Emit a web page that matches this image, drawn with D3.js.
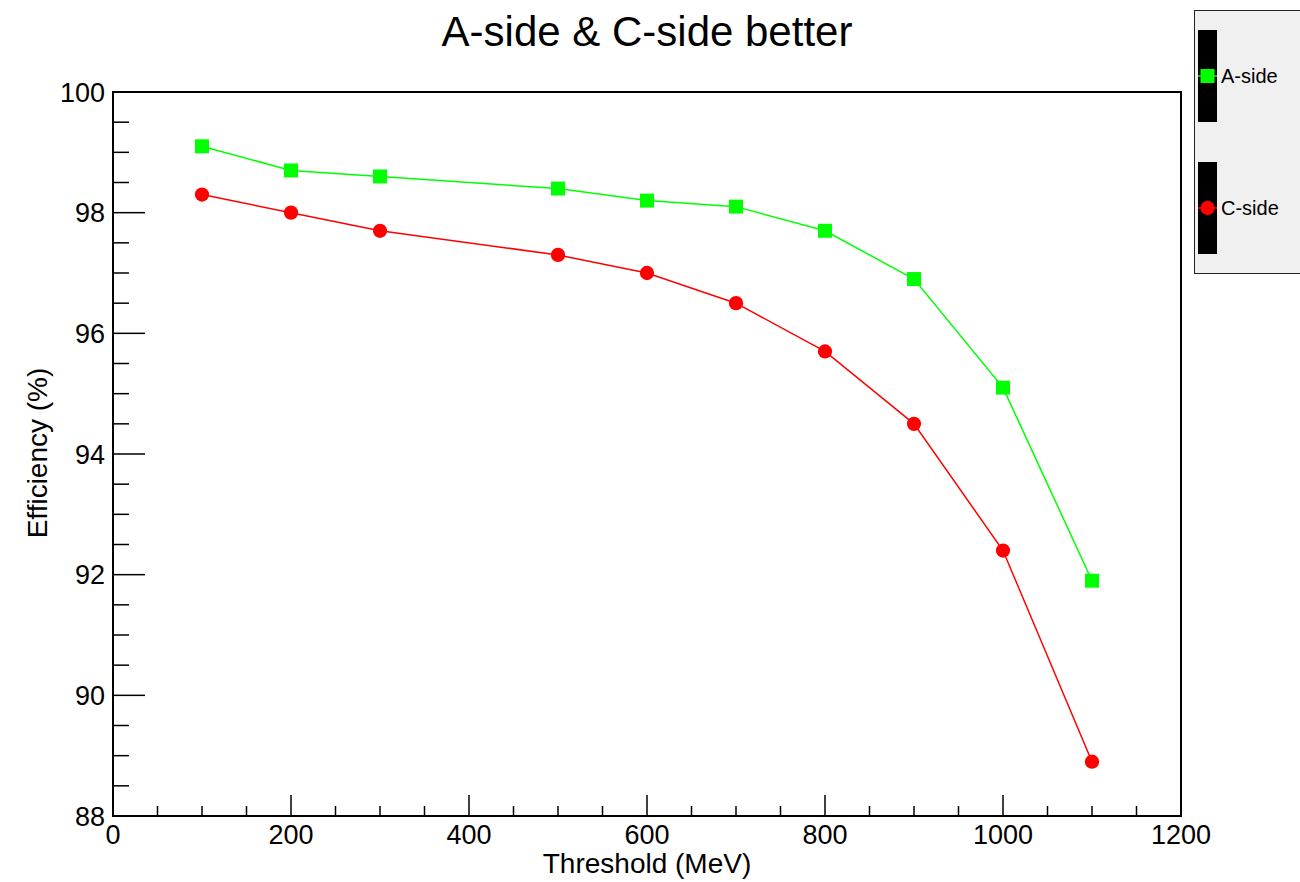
<!DOCTYPE html>
<meta charset="utf-8">
<style>
	body { margin: 0; background: #fff; }
	text { font-family: "Liberation Sans", Arial, sans-serif; fill: #000; }
	.line { fill: none; stroke-width: 1.5px; }
</style>
<svg id="chart" width="1300" height="882"></svg>
<script src="https://d3js.org/d3.v7.min.js"></script>
<script>
	// data
	var thresholds = [100, 200, 300, 500, 600, 700, 800, 900, 1000, 1100];
	var aSide = [99.1, 98.7, 98.6, 98.4, 98.2, 98.1, 97.7, 96.9, 95.1, 91.9];
	var cSide = [98.3, 98.0, 97.7, 97.3, 97.0, 96.5, 95.7, 94.5, 92.4, 88.9];
	var seriesNames = ["A-side", "C-side"];
	var seriesColors = ["#00ff00", "#ff0000"];
	var seriesMarkers = ["square", "circle"];
	var xTicks = [0, 200, 400, 600, 800, 1000, 1200];
	var yTicks = [88, 90, 92, 94, 96, 98, 100];

	var svg = d3.select("#chart"),
		margin = {top: 92, right: 119, bottom: 66, left: 113},
		width = 1300 - margin.left - margin.right,
		height = 882 - margin.top - margin.bottom,
		g = svg.append("g").attr("transform", "translate(" + margin.left + "," + margin.top + ")");

	var x = d3.scaleLinear().domain([0, 1200]).range([0, width]),
		y = d3.scaleLinear().domain([88, 100]).range([height, 0]);

	var series = [
		{id: seriesNames[0], color: seriesColors[0], marker: seriesMarkers[0], values: thresholds.map(function(t, i) { return {t: t, v: aSide[i]}; })},
		{id: seriesNames[1], color: seriesColors[1], marker: seriesMarkers[1], values: thresholds.map(function(t, i) { return {t: t, v: cSide[i]}; })}
	];

	// frame
	g.append("rect")
		.attr("width", width).attr("height", height)
		.attr("fill", "none").attr("stroke", "#000").attr("stroke-width", 2);

	// x ticks (ROOT style, pointing inward)
	var xMinor = d3.range(0, 1201, 50);
	g.selectAll(".xt").data(xMinor).enter().append("line")
		.attr("x1", function(d) { return x(d); }).attr("x2", function(d) { return x(d); })
		.attr("y1", height).attr("y2", function(d) { return d % 200 === 0 ? height - 21 : height - 10; })
		.attr("stroke", "#000").attr("stroke-width", 1.5);
	g.selectAll(".xl").data(xTicks).enter().append("text")
		.attr("x", function(d) { return x(d); }).attr("y", height + 28)
		.attr("text-anchor", "middle").style("font-size", "27px")
		.text(function(d) { return d; });

	// y ticks
	var yMinor = d3.range(88, 100.01, 0.5);
	g.selectAll(".yt").data(yMinor).enter().append("line")
		.attr("y1", function(d) { return y(d); }).attr("y2", function(d) { return y(d); })
		.attr("x1", 0).attr("x2", function(d) { return Math.abs(d % 2) < 1e-6 ? 32 : 16; })
		.attr("stroke", "#000").attr("stroke-width", 1.5);
	g.selectAll(".yl").data(yTicks).enter().append("text")
		.attr("x", -8).attr("y", function(d) { return y(d); })
		.attr("dy", "0.36em").attr("text-anchor", "end").style("font-size", "27px")
		.text(function(d) { return d; });

	// axis titles
	svg.append("text")
		.attr("x", 647).attr("y", 873)
		.attr("text-anchor", "middle").style("font-size", "28px")
		.text("Threshold (MeV)");
	svg.append("text")
		.attr("transform", "translate(47,453) rotate(-90)")
		.attr("text-anchor", "middle").style("font-size", "28px")
		.text("Efficiency (%)");

	// title
	svg.append("text")
		.attr("x", 647).attr("y", 46)
		.attr("text-anchor", "middle").style("font-size", "42px")
		.text("A-side & C-side better");

	var line = d3.line()
		.x(function(d) { return x(d.t); })
		.y(function(d) { return y(d.v); });

	var s = g.selectAll(".series").data(series).enter().append("g").attr("class", "series");
	s.append("path")
		.attr("class", "line")
		.attr("d", function(d) { return line(d.values); })
		.style("stroke", function(d) { return d.color; });

	var sym = function(m, size) { return d3.symbol().type(m === "square" ? d3.symbolSquare : d3.symbolCircle).size(size)(); };
	s.each(function(d) {
		d3.select(this).selectAll(".pt").data(d.values).enter().append("path")
			.attr("transform", function(p) { return "translate(" + x(p.t) + "," + y(p.v) + ")"; })
			.attr("d", sym(d.marker, d.marker === "square" ? 196 : 160))
			.attr("fill", d.color);
	});

	// legend
	var leg = svg.append("g").attr("transform", "translate(1194,10)");
	leg.append("rect")
		.attr("x", 0.5).attr("y", 0.5).attr("width", 110).attr("height", 263)
		.attr("fill", "#f0f0f0").attr("stroke", "#222").attr("stroke-width", 1);
	var item = leg.selectAll(".item").data(series).enter().append("g")
		.attr("transform", function(d, i) { return "translate(0," + (i * 132) + ")"; });
	item.append("rect")
		.attr("x", 4).attr("y", 20).attr("width", 19).attr("height", 92)
		.attr("fill", "#000");
	item.append("line")
		.attr("x1", 4).attr("x2", 23).attr("y1", 66).attr("y2", 66)
		.attr("stroke", function(d) { return d.color; }).attr("stroke-width", 1.5);
	item.append("path")
		.attr("transform", "translate(13.5,66)")
		.attr("d", function(d) { return sym(d.marker, d.marker === "square" ? 196 : 160); })
		.attr("fill", function(d) { return d.color; });
	item.append("text")
		.attr("x", 27).attr("y", 66).attr("dy", "0.36em")
		.style("font-size", "20px")
		.text(function(d) { return d.id; });
</script>
